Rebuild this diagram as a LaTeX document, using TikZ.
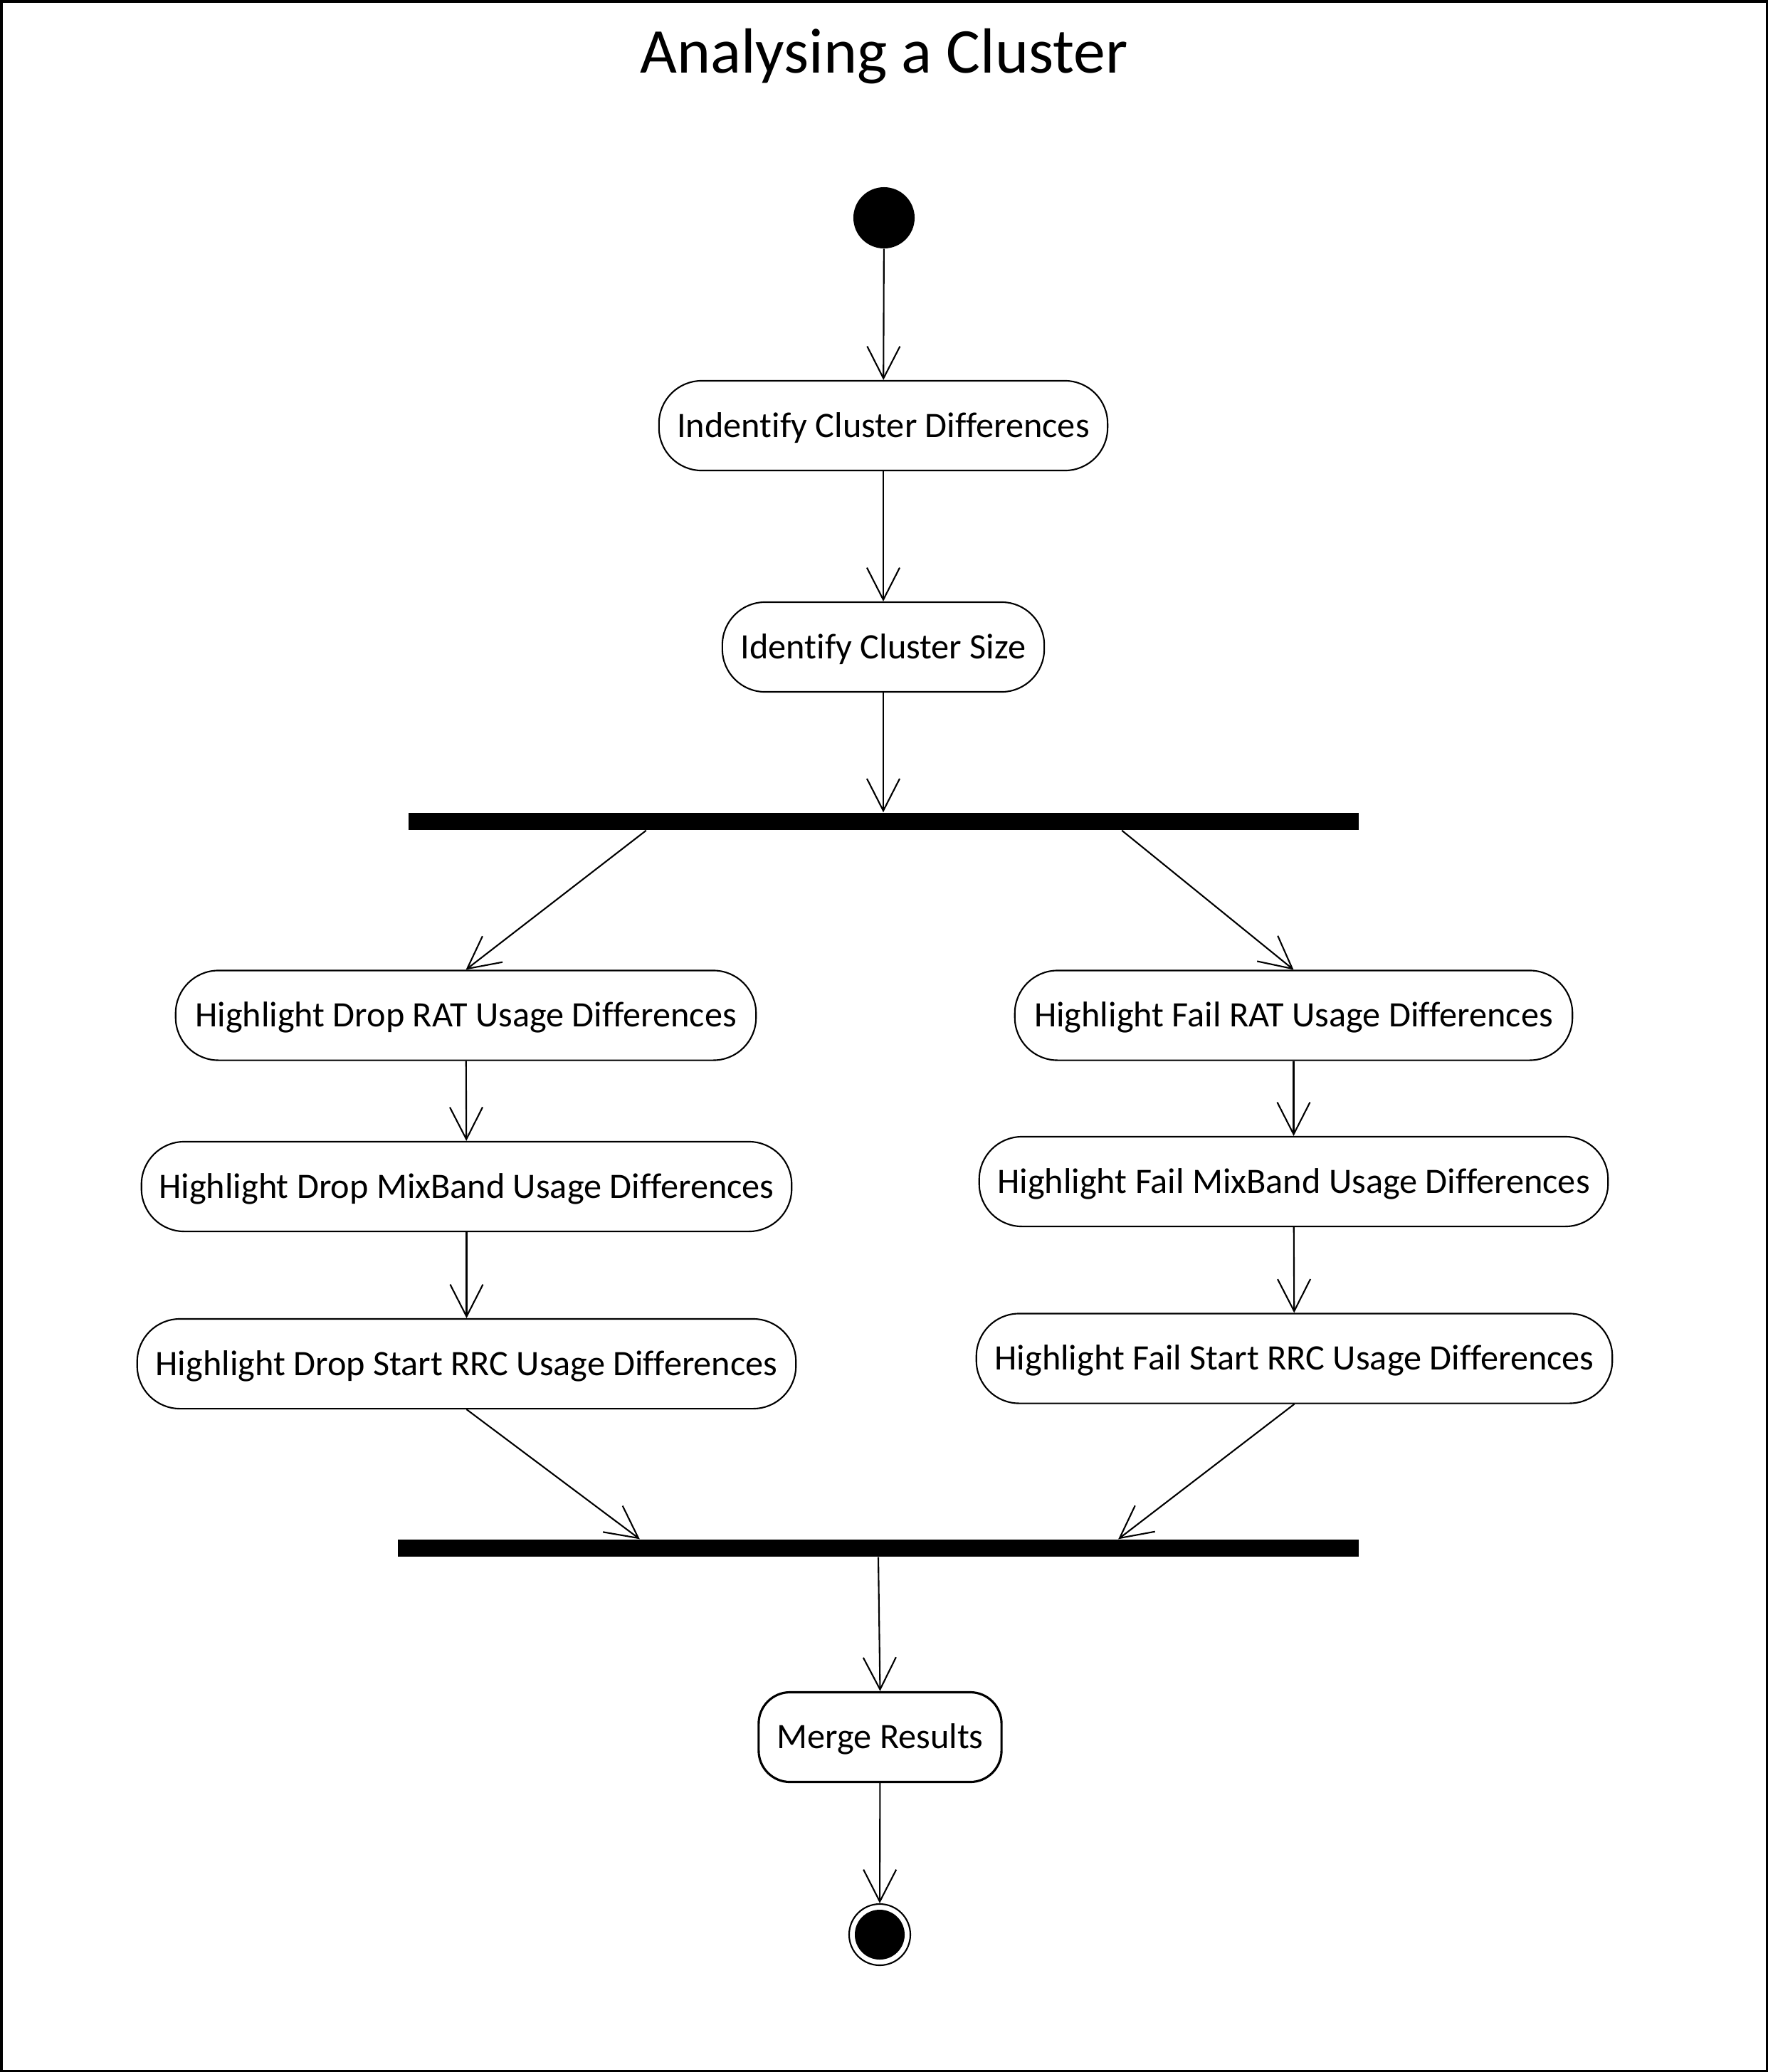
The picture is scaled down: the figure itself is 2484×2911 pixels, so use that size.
\documentclass[tikz,border=0pt]{standalone}
\usepackage{fontspec}
\setmainfont{Carlito}[Ligatures=NoCommon]
\usetikzlibrary{arrows.meta,calc}
\begin{document}
\begin{tikzpicture}[x=0.01cm,y=-0.01cm,
  act/.style={draw,line width=0.6pt,rounded corners=0.6cm,fill=white,
    font=\fontsize{14.3}{17}\selectfont,text height=0.32cm,text depth=0pt,
    inner sep=0pt,minimum height=1.26cm},
  bar/.style={fill=black,inner sep=0pt,minimum height=0.24cm},
  flow/.style={line width=0.6pt,-{Straight Barb[length=0.45cm,width=0.46cm]}}]
\useasboundingbox (0,0) rectangle (2484,2911);
\draw[line width=1pt] (1.75,1.75) rectangle (2482.25,2909.25);
\node[font=\fontsize{25.5}{30}\selectfont,anchor=base,inner sep=0pt] (title) at (1242,102) {Analysing a Cluster};
\node[circle,fill=black,minimum size=0.86cm,inner sep=0pt] (start) at (1242,306) {};
\node[act,minimum width=6.30cm] (a1) at (1241,598) {Indentify Cluster Differences};
\node[act,minimum width=4.52cm] (a2) at (1241,909) {Identify Cluster Size};
\node[bar,minimum width=13.35cm] (bar1) at (1241.5,1154) {};
\node[act,minimum width=8.15cm] (l1) at (654.5,1426.5) {Highlight Drop RAT Usage Differences};
\node[act,minimum width=9.13cm] (l2) at (655.5,1667) {Highlight Drop MixBand Usage Differences};
\node[act,minimum width=9.25cm] (l3) at (655.5,1916) {Highlight Drop Start RRC Usage Differences};
\node[act,minimum width=7.83cm] (r1) at (1817.5,1426.5) {Highlight Fail RAT Usage Differences};
\node[act,minimum width=8.83cm] (r2) at (1817.5,1660) {Highlight Fail MixBand Usage Differences};
\node[act,minimum width=8.93cm] (r3) at (1818.5,1908.5) {Highlight Fail Start RRC Usage Differences};
\node[bar,minimum width=13.50cm] (bar2) at (1234,2175) {};
\node[act,minimum width=3.41cm,rounded corners=0.44cm,line width=0.9pt] (merge) at (1236.5,2440.5) {Merge Results};
\node[circle,draw,line width=0.6pt,minimum size=0.86cm,inner sep=0pt] (fin) at (1236,2718) {};
\fill (fin.center) circle (0.35cm);
\draw[flow] (start) -- (a1);
\draw[flow] (a1) -- (a2);
\draw[flow] (a2.south) -- (a2.south |- bar1.north);
\draw[flow] ([xshift=-3.335cm]bar1.south) -- (l1.north);
\draw[flow] ([xshift=3.345cm]bar1.south) -- (r1.north);
\draw[flow] (l1) -- (l2);
\draw[flow] (l2) -- (l3);
\draw[flow] (r1) -- (r2);
\draw[flow] (r2) -- (r3);
\draw[flow] (l3.south) -- ([xshift=-3.35cm]bar2.north);
\draw[flow] (r3.south) -- ([xshift=3.37cm]bar2.north);
\draw[flow] (bar2.south) -- (merge.north);
\draw[flow] (merge) -- (fin);
\end{tikzpicture}
\end{document}
